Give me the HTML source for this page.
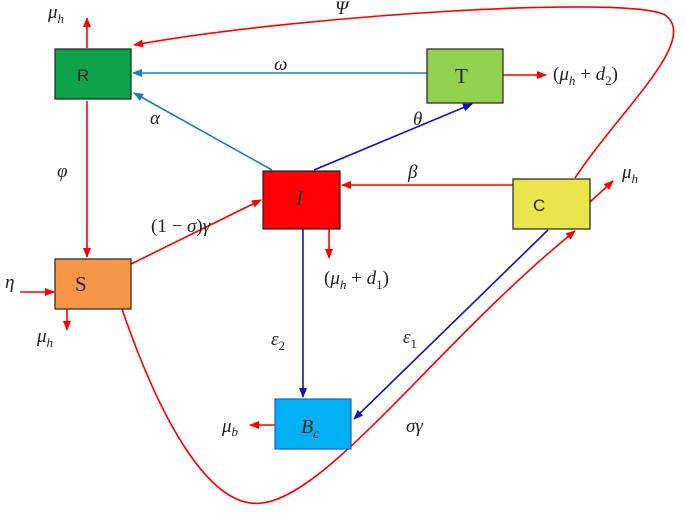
<!DOCTYPE html>
<html><head><meta charset="utf-8"><style>
body{margin:0;background:#fff}
text{font-family:"Liberation Serif",serif;font-style:italic;font-size:19px;fill:#222}
.b{font-family:"Liberation Sans",sans-serif;font-style:normal;font-size:17px}
</style></head><body>
<svg width="685" height="508" viewBox="0 0 685 508" xmlns="http://www.w3.org/2000/svg">
<defs>
<marker id="r" markerWidth="10" markerHeight="8" refX="9" refY="4" orient="auto" markerUnits="userSpaceOnUse"><path d="M0,0L10,4L0,8z" fill="#f00"/></marker>
<marker id="lb" markerWidth="10" markerHeight="8" refX="9" refY="4" orient="auto" markerUnits="userSpaceOnUse"><path d="M0,0L10,4L0,8z" fill="#1a7cc8"/></marker>
<marker id="db" markerWidth="10" markerHeight="8" refX="9" refY="4" orient="auto" markerUnits="userSpaceOnUse"><path d="M0,0L10,4L0,8z" fill="#1010c8"/></marker>
</defs>
<g fill="none" stroke-width="1.6">
<!-- red -->
<path d="M87,48V18" stroke="#f00" marker-end="url(#r)"/>
<path d="M87,101V257" stroke="#f00" marker-end="url(#r)"/>
<path d="M503,75H546" stroke="#f00" marker-end="url(#r)"/>
<path d="M513,185H342" stroke="#f00" marker-end="url(#r)"/>
<path d="M590,202L613,181" stroke="#f00" marker-end="url(#r)"/>
<path d="M131,264L261,200" stroke="#f00" marker-end="url(#r)"/>
<path d="M329,229V258" stroke="#f00" marker-end="url(#r)"/>
<path d="M20,292H54" stroke="#f00" marker-end="url(#r)"/>
<path d="M67,309V330" stroke="#f00" marker-end="url(#r)"/>
<path d="M275,425H250" stroke="#f00" marker-end="url(#r)"/>
<path d="M575,178C620,110 700,40 665,15C630,-5 300,15 134,45" stroke="#f00" marker-end="url(#r)"/>
<path d="M122,309C160,420 210,510 262,503C330,495 440,340 575,231" stroke="#f00" marker-end="url(#r)"/>
<!-- blue -->
<path d="M427,73H133" stroke="#1a7cc8" marker-end="url(#lb)"/>
<path d="M272,170L134,93" stroke="#1a7cc8" marker-end="url(#lb)"/>
<path d="M314,170L472,104" stroke="#1010c8" marker-end="url(#db)"/>
<path d="M303,229V397" stroke="#1010c8" marker-end="url(#db)"/>
<path d="M548,230L354,419" stroke="#1010c8" marker-end="url(#db)"/>
</g>
<g stroke="#222" stroke-width="1.2">
<rect x="55" y="49" width="76" height="50" fill="#0ea24a"/>
<rect x="427" y="49" width="76" height="54" fill="#92d050"/>
<rect x="263" y="171" width="77" height="58" fill="#fe0000"/>
<rect x="513" y="179" width="77" height="50" fill="#e8e64a"/>
<rect x="55" y="259" width="76" height="50" fill="#f79646"/>
<rect x="275" y="399" width="76" height="50" fill="#00b0f0" stroke="#1a60d0"/>
</g>
<text class="b" x="77" y="81">R</text>
<text x="455" y="83" style="font-style:normal;font-size:21px">T</text>
<text x="296" y="205" style="font-size:21px">I</text>
<text class="b" x="533" y="211">C</text>
<text x="75" y="291" style="font-style:normal;font-size:21px">S</text>
<text x="301" y="433" style="font-size:20px">B<tspan font-size="14" dy="5">c</tspan></text>
<text x="48" y="18">μ<tspan font-size="13" dy="5">h</tspan></text>
<text x="335" y="14">Ψ</text>
<text x="274" y="70">ω</text>
<text x="553" y="80" style="font-style:normal">(<tspan font-style="italic">μ</tspan><tspan font-size="13" dy="5" font-style="italic">h</tspan><tspan dy="-5"> + </tspan><tspan font-style="italic">d</tspan><tspan font-size="13" dy="5">2</tspan><tspan dy="-5">)</tspan></text>
<text x="150" y="124">α</text>
<text x="413" y="125">θ</text>
<text x="57" y="177">φ</text>
<text x="408" y="178">β</text>
<text x="622" y="178">μ<tspan font-size="13" dy="5">h</tspan></text>
<text x="151" y="232" style="font-style:normal">(1 − <tspan font-style="italic">σ</tspan>)<tspan font-style="italic">γ</tspan></text>
<text x="5" y="288">η</text>
<text x="324" y="284" style="font-style:normal">(<tspan font-style="italic">μ</tspan><tspan font-size="13" dy="5" font-style="italic">h</tspan><tspan dy="-5"> + </tspan><tspan font-style="italic">d</tspan><tspan font-size="13" dy="5">1</tspan><tspan dy="-5">)</tspan></text>
<text x="37" y="342">μ<tspan font-size="13" dy="5">h</tspan></text>
<text x="271" y="345">ε<tspan font-size="13" dy="5" font-style="normal">2</tspan></text>
<text x="403" y="343">ε<tspan font-size="13" dy="5" font-style="normal">1</tspan></text>
<text x="222" y="432">μ<tspan font-size="13" dy="4">b</tspan></text>
<text x="406" y="432">σγ</text>
</svg>
</body></html>
